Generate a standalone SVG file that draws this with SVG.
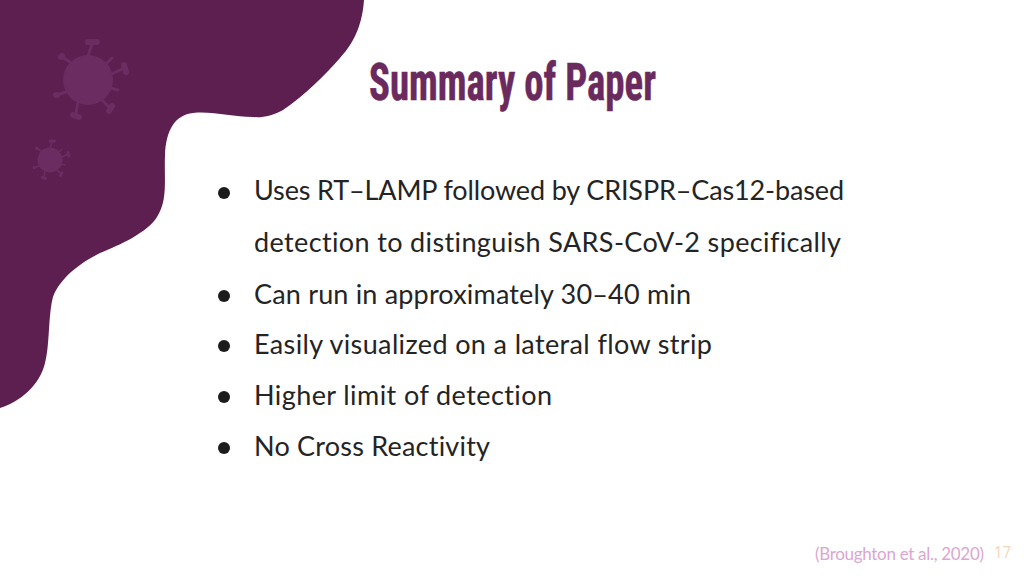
<svg xmlns="http://www.w3.org/2000/svg" width="1024" height="576" viewBox="0 0 1024 576">
<style>
.b{font-family:"Lato","Noto Sans","Liberation Sans",sans-serif;font-size:27px;fill:#242424;font-variant-ligatures:none}
.d{fill:#1c1c1c}
.v{fill:#6b2c62}
.s{stroke:#6b2c62;fill:none;stroke-linecap:round}
</style>
<defs>
<g id="virus">
<circle r="25"/>
<g class="s" stroke-width="3">
<path d="M0 -24L4 -36M24 -6L36 -12M18 -16L24 -22M-18 -18L-26 -23M-22 12L-31 15M-10 22L-12 33M14 20L22 28M22 8L30 10"/>
</g>
<g class="s" stroke-width="6">
<path d="M0 -38H9M36 -15L38 -8M-26 -24L-27 -23M-32 15L-31 15M-15 35L-9 37M21 31L24 26"/>
</g>
</g>
</defs>
<rect width="1024" height="576" fill="#fff"/>
<path d="M0 0H364C362 30 350 47 340 58C325 75 305 95 283 110C272 116 262 118 253 117C232 117 213 111 193 113C175 115 166 130 165 155C164 180 168 200 157 217C148 232 120 245 100 253C80 263 60 278 53 297C48 315 50 345 45 363C40 385 20 402 0 408Z" fill="#5c1f4f"/>
<g id="virus-large" class="v"><use href="#virus" transform="translate(88 80)"/></g>
<g id="virus-small" class="v"><use href="#virus" transform="translate(50 160) scale(.5)"/></g>
<text x="369" y="100" font-family="'Liberation Sans Narrow','Roboto Condensed','Liberation Sans',sans-serif" font-size="51" font-weight="700" fill="#6a2a5e" stroke="#6a2a5e" stroke-width=".5" textLength="287" lengthAdjust="spacingAndGlyphs">Summary of Paper</text>
<g class="d"><circle cx="224" cy="193" r="6"/><circle cx="224" cy="296" r="6"/><circle cx="224" cy="346" r="6"/><circle cx="224" cy="397" r="6"/><circle cx="224" cy="448" r="6"/></g>
<text class="b" x="254" y="200" textLength="590">Uses RT–LAMP followed by CRISPR–Cas12-based</text>
<text class="b" x="254" y="252" textLength="587">detection to distinguish SARS-CoV-2 specifically</text>
<text class="b" x="254" y="304" textLength="437">Can run in approximately 30–40 min</text>
<text class="b" x="254" y="354" textLength="458">Easily visualized on a lateral flow strip</text>
<text class="b" x="254" y="405" textLength="298">Higher limit of detection</text>
<text class="b" x="254" y="456" textLength="236">No Cross Reactivity</text>
<text x="815" y="560" font-family="Lato,sans-serif" font-size="17" fill="#dba6cf" textLength="169">(Broughton et al., 2020)</text>
<text x="994" y="558" font-family="'Open Sans',sans-serif" font-size="16" fill="#f3d5bd" textLength="17" lengthAdjust="spacingAndGlyphs">17</text>
</svg>
